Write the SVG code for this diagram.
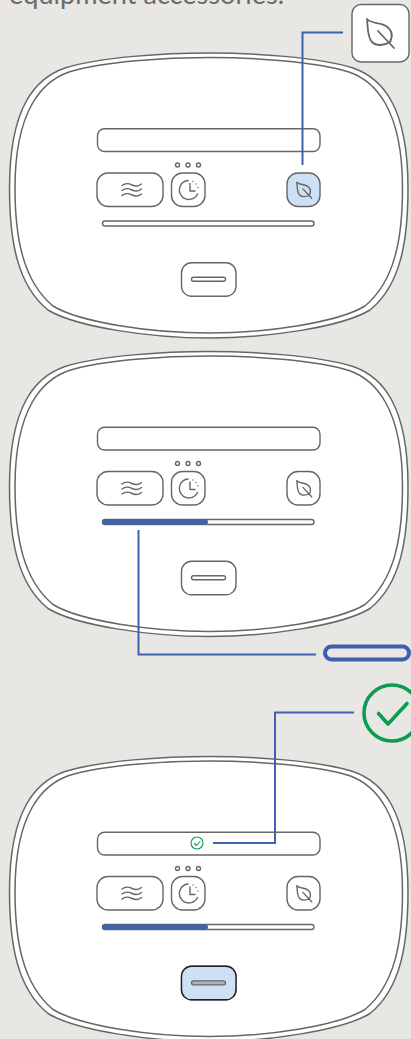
<svg xmlns="http://www.w3.org/2000/svg" xmlns:xlink="http://www.w3.org/1999/xlink" width="411" height="1039" viewBox="0 0 411 1039">
<style>
.ln{fill:none;stroke:#666;stroke-width:1.4;stroke-linecap:round;stroke-linejoin:round}
.box{fill:#fff;stroke:#666;stroke-width:1.4}
.hi{fill:#cde0f4}
.bar{fill:#3f62ae}
.con{fill:none;stroke:#3f62b0;stroke-width:2}
.chk{fill:none;stroke:#0b9c52;stroke-linecap:round;stroke-linejoin:round}
.txt{font-family:"Lato","Liberation Sans",sans-serif;font-size:27.100px;fill:#6b6b6b}
</style>
<defs>
<path id="leaf" d="M-13 -14 C-9 -9 0 -11 6 -7 C12 -3 13 3 10 9 C4 13 -4 13 -8 9 C-13 4 -12 -6 -13 -14 Z M-2 -2 L14 15"/>
<g id="device">
<path d="M209 53 C165 53 100 57 65 68 C36 78 9.500 106 9.500 188 C9.500 240 17 285 48 310 C76 327 150 338 209 338 C268 338 342 327 370 310 C401 285 408 240 408 188 C408 106 382 78 353 68 C318 57 253 53 209 53 Z" fill="#fff" stroke="#666" stroke-width="1.500"/>
<path d="M209 57.500 C166 57.500 103 61.500 69 72 C43 81 15 109 15 188 C15 238 23 281 53 306 C80 322.500 152 333 209 333 C266 333 338 322.500 365 306 C395 281 402.500 238 402.500 188 C402.500 109 375 81 349 72 C315 61.500 252 57.500 209 57.500 Z" fill="#fff" stroke="#666" stroke-width="1.500"/>
<rect class="box" x="97.500" y="128.700" width="222.500" height="22.800" rx="7"/>
<rect class="box" x="97" y="173" width="66" height="33.500" rx="11"/>
<rect class="box" x="171.500" y="173" width="33.500" height="33.500" rx="11"/>
<circle class="ln" cx="177.500" cy="165" r="2"/><circle class="ln" cx="188" cy="165" r="2"/><circle class="ln" cx="198.500" cy="165" r="2"/>
<path class="ln" d="M122 185.500 C125 183 129 183.500 132 185 C135 186.500 139 186 141.500 184 M122 190.500 C125 188 129 188.500 132 190 C135 191.500 139 191 141.500 189 M122 195.500 C125 193 129 193.500 132 195 C135 196.500 139 196 141.500 194"/>
<path class="ln" d="M188 180.500 A9.500 9.500 0 1 0 197.500 194 M190 183.500 V191 H195 M193 181.500 v0.100 M196 184 v0.100 M198 187.500 v0.100"/>
<rect class="box" x="102.500" y="221" width="211.500" height="5" rx="2.500"/>
<rect class="box" x="181.500" y="262.800" width="54.500" height="33.500" rx="10"/>
<rect class="box" x="191.500" y="277.300" width="34" height="4" rx="2"/>
</g>
</defs>
<rect width="411" height="1039" fill="#e8e7e3"/>
<text class="txt" x="9" y="3.800">equipment accessories.</text>

<g id="device-1">
<use xlink:href="#device"/>
<rect class="box hi" x="287" y="173" width="33" height="33.500" rx="11"/>
<use xlink:href="#leaf" class="ln" transform="translate(304 190) scale(.55)" style="stroke-width:2.500"/>
</g>
<g id="device-2">
<use xlink:href="#device" y="298.500"/>
<rect class="box" x="287" y="471.500" width="33" height="33.500" rx="11"/>
<use xlink:href="#leaf" class="ln" transform="translate(304 488.500) scale(.55)" style="stroke-width:2.500"/>
<rect class="bar" x="102" y="519.500" width="106" height="5" rx="2.500"/>
</g>
<g id="device-3">
<use xlink:href="#device" y="703.500"/>
<rect class="box" x="287" y="876.500" width="33" height="33.500" rx="11"/>
<use xlink:href="#leaf" class="ln" transform="translate(304 893.500) scale(.55)" style="stroke-width:2.500"/>
<rect class="bar" x="102" y="924.500" width="106" height="5" rx="2.500"/>
<rect class="box hi" style="stroke:#222" x="181.500" y="966.300" width="54.500" height="33.500" rx="10"/>
<rect x="191.500" y="980.800" width="34" height="4" rx="2" fill="#a9b4c2" stroke="#666" stroke-width="1.300"/>
<circle class="chk" cx="197" cy="843" r="6" stroke-width="1.100"/>
<path class="chk" d="M194.500 843.500 L196.500 845.500 L200 841.500" stroke-width="1.100"/>
</g>

<g id="connectors">
<path class="con" d="M343 32.500 H302.500 V165"/>
<path class="con" d="M138.500 530 V654.500 H316"/>
<path class="con" d="M354 712.500 H275 V843 H213"/>
</g>

<g id="callout-leaf">
<rect class="box" x="352" y="4.500" width="57" height="57.500" rx="9"/>
<use xlink:href="#leaf" class="ln" transform="translate(380 33)" style="stroke-width:1.800"/>
</g>
<g id="callout-bar">
<rect x="325" y="646.500" width="84" height="13" rx="6.500" fill="none" stroke="#3c5fae" stroke-width="4"/>
</g>
<g id="callout-check">
<circle class="chk" cx="392" cy="713" r="28" stroke-width="3.600"/>
<path class="chk" d="M378.500 713.500 L388 724 L407 703.500" stroke-width="3.600"/>
</g>
</svg>
